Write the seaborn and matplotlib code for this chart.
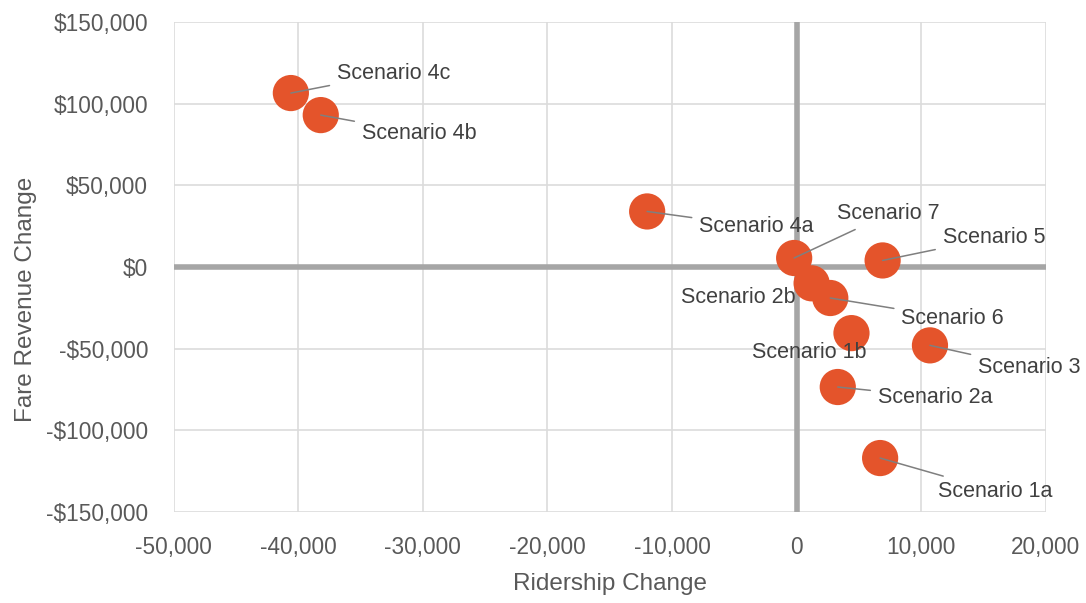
import matplotlib
matplotlib.use("Agg")
import matplotlib.pyplot as plt
import matplotlib.ticker as mticker
import pandas as pd
import seaborn as sns

# Scenario results: change in annual ridership vs. change in fare revenue
scenarios = ["Scenario 1a", "Scenario 1b", "Scenario 2a", "Scenario 2b", "Scenario 3",
             "Scenario 4a", "Scenario 4b", "Scenario 4c", "Scenario 5", "Scenario 6",
             "Scenario 7"]
ridership_change = [6700, 4400, 3300, 1200, 10700, -12000, -38200, -40600, 6900, 2700, -200]
revenue_change = [-117000, -40500, -73500, -10000, -48000, 34000, 93000, 106500, 4000, -19000, 5500]

x_ticks = [-50000, -40000, -30000, -20000, -10000, 0, 10000, 20000]
y_ticks = [-150000, -100000, -50000, 0, 50000, 100000, 150000]

# Label placement: offset in pixels from the marker and horizontal alignment, leader line or not
label_layout = {
    "Scenario 1a": (58, -33, "left", True),
    "Scenario 1b": (-42, -19, "center", False),
    "Scenario 2a": (40, -10, "left", True),
    "Scenario 2b": (-16, -14, "right", False),
    "Scenario 3": (48, -22, "left", True),
    "Scenario 4a": (52, -15, "left", True),
    "Scenario 4b": (41, -18, "left", True),
    "Scenario 4c": (46, 20, "left", True),
    "Scenario 5": (60, 23, "left", True),
    "Scenario 6": (71, -20, "left", True),
    "Scenario 7": (43, 44, "left", True),
}

df = pd.DataFrame({"scenario": scenarios,
                   "ridership": ridership_change,
                   "revenue": revenue_change})

sns.set_theme(style="white")
plt.rcParams["font.family"] = ["Liberation Sans", "DejaVu Sans"]

TEXT = "#595959"
GRID = "#dcdcdc"
ZERO = "#a6a6a6"
DOT = "#e4542b"

fig = plt.figure(figsize=(10.86, 6.03), dpi=100)
ax = fig.add_axes([0.160, 0.151, 0.803, 0.8125])

ax.set_xlim(x_ticks[0], x_ticks[-1])
ax.set_ylim(y_ticks[0], y_ticks[-1])
ax.set_xticks(x_ticks)
ax.set_yticks(y_ticks)

for t in x_ticks:
    if t != 0:
        ax.axvline(t, color=GRID, lw=1.2, zorder=0)
for t in y_ticks:
    if t != 0:
        ax.axhline(t, color=GRID, lw=1.2, zorder=0)
ax.axvline(0, color=ZERO, lw=4, zorder=1)
ax.axhline(0, color=ZERO, lw=4, zorder=1)

for s in ax.spines.values():
    s.set_visible(False)

sns.scatterplot(data=df, x="ridership", y="revenue", ax=ax, s=680, color=DOT,
                edgecolor="none", linewidth=0, zorder=3, legend=False)

for name, xv, yv in zip(scenarios, ridership_change, revenue_change):
    dx, dy, ha, leader = label_layout[name]
    arrow = dict(arrowstyle="-", color="#7f7f7f", lw=1.1, shrinkA=3, shrinkB=0) if leader else None
    ax.annotate(name, xy=(xv, yv), xytext=(dx, dy), textcoords="offset pixels",
                ha=ha, va="center", fontsize=15.5, color="#404040",
                arrowprops=arrow, zorder=4)

ax.xaxis.set_major_formatter(mticker.FuncFormatter(lambda v, p: f"{v:,.0f}"))
ax.yaxis.set_major_formatter(mticker.FuncFormatter(
    lambda v, p: f"-${abs(v):,.0f}" if v < 0 else f"${v:,.0f}"))
ax.tick_params(axis="both", length=0, labelsize=16.3, labelcolor=TEXT)
ax.tick_params(axis="y", pad=18.5)
ax.tick_params(axis="x", pad=17)

ax.set_xlabel("Ridership Change", fontsize=17.5, color=TEXT)
ax.set_ylabel("Fare Revenue Change", fontsize=17.5, color=TEXT)
ax.xaxis.set_label_coords(0.5, -0.125)
ax.yaxis.set_label_coords(-0.157, 0.433)

fig.savefig("out.png", dpi=100, facecolor="white")
